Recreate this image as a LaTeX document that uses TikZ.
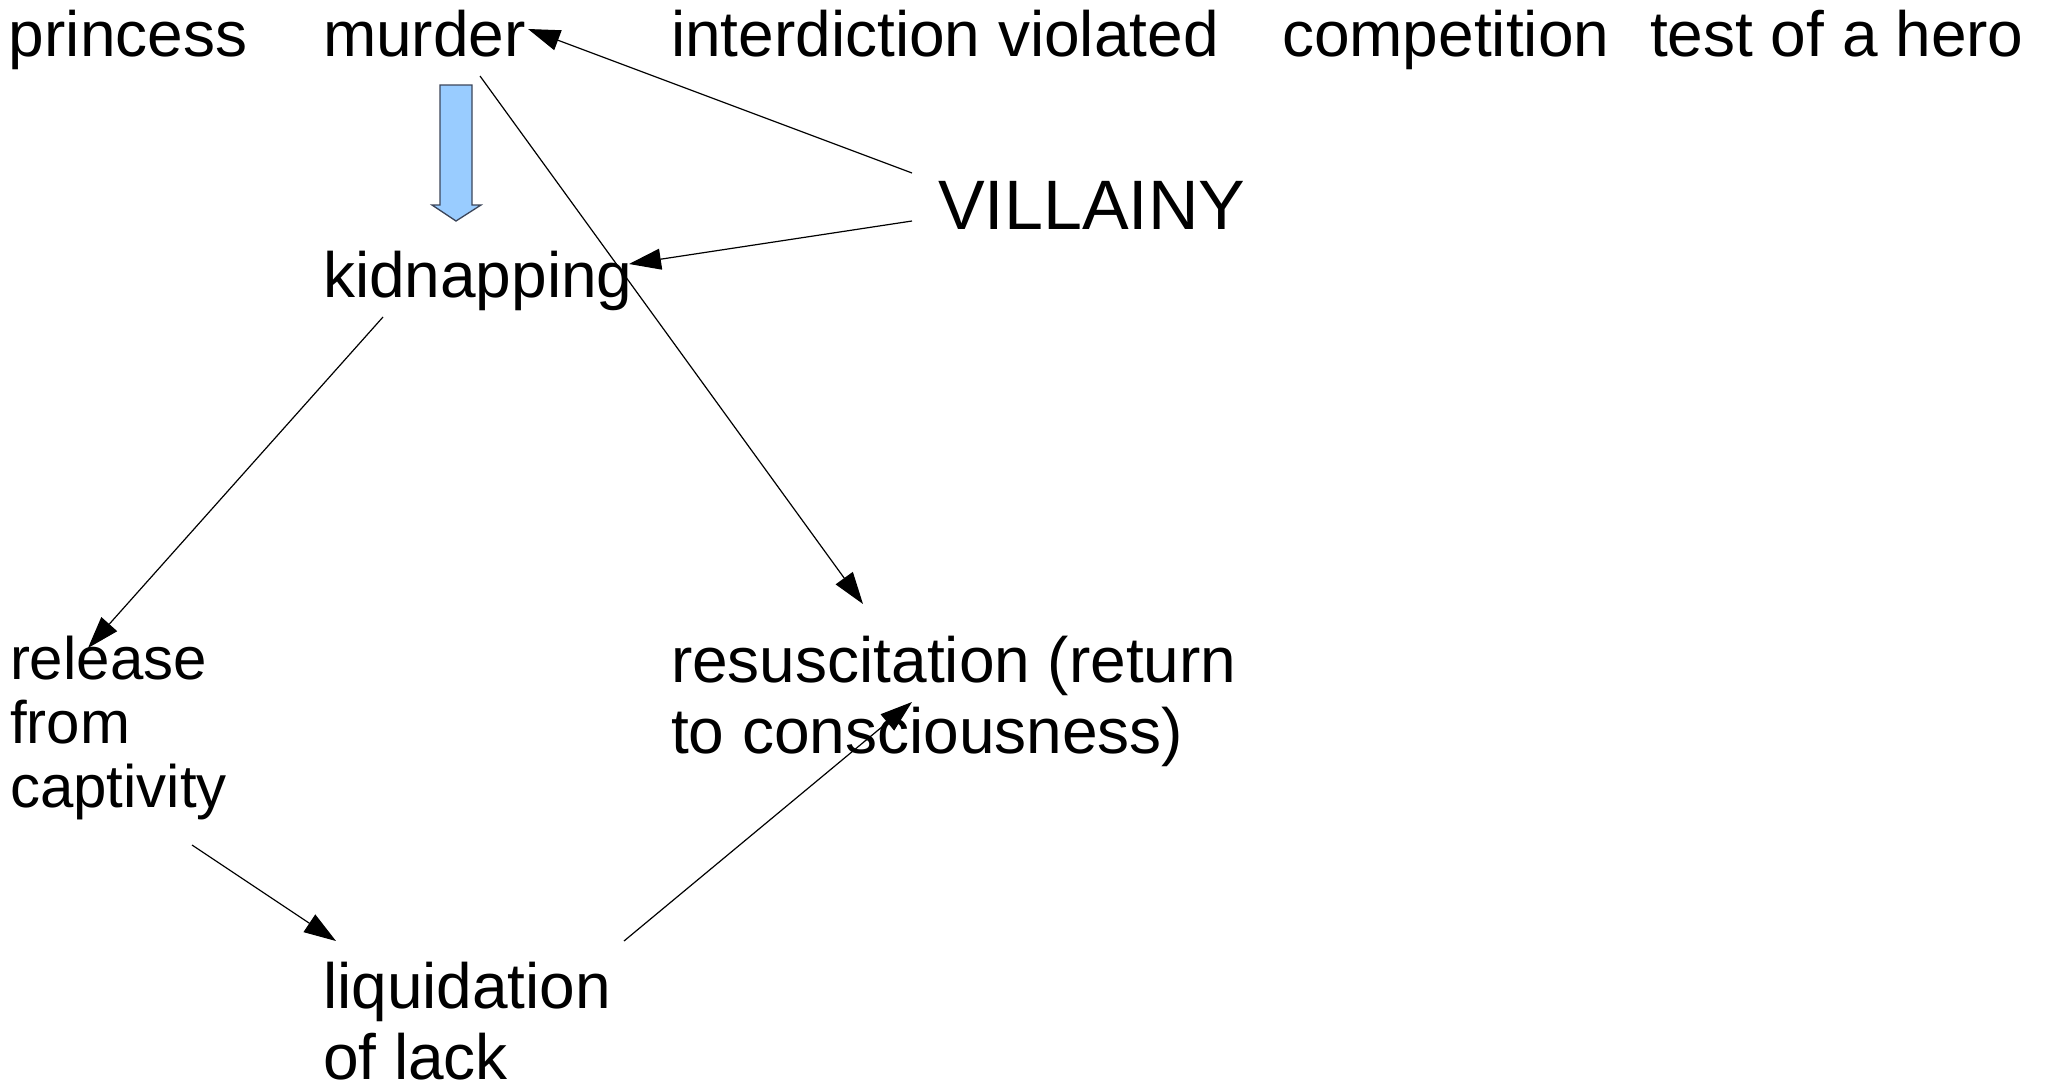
\documentclass[tikz,border=0pt]{standalone}
\usepackage{fontspec}
\setmainfont{Liberation Sans}
\usetikzlibrary{arrows.meta}
\begin{document}
\begin{tikzpicture}[x=1pt,y=-1pt,
  lbl/.style={anchor=base west,inner sep=0pt,outer sep=0pt,font=\fontsize{64}{71}\selectfont,align=left},
  biglbl/.style={lbl,font=\fontsize{70}{78}\selectfont},
  smalllbl/.style={lbl,font=\fontsize{60}{64}\selectfont},
  conn/.style={line width=1.2pt,-{Triangle[length=32pt,width=21pt]}},
  blockarrow/.style={fill={rgb,255:red,153;green,204;blue,255},draw={rgb,255:red,60;green,70;blue,90},line width=1.3pt,line join=miter}]
\useasboundingbox[fill=white] (0,0) rectangle (2048,1084);

% top row
\node[lbl] (princess) at (9,56) {princess};
\node[lbl] (murder) at (323,56) {murder};
\node[lbl] (interdiction) at (671,56) {interdiction violated};
\node[lbl] (competition) at (1282,56) {competition};
\node[lbl] (test) at (1650,56) {test of a hero};

\node[biglbl] (villainy) at (938,229) {VILLAINY};
\node[lbl] (kidnapping) at (323,297) {kidnapping};
% multi-line nodes: base anchor is the baseline of the last line
\node[smalllbl] (release) at (10,807) {release\\from\\captivity};
\node[lbl] (resus) at (671,753) {resuscitation (return\\to consciousness)};
\node[lbl] (liquidation) at (323,1079) {liquidation\\of lack};

% connector end points
\coordinate (vm) at (912,173);
\coordinate (mv) at (528,29);
\coordinate (vk) at (912,221);
\coordinate (kv) at (629,264);
\coordinate (mr) at (480,76);
\coordinate (rm) at (863,604);
\coordinate (kr) at (383,317);
\coordinate (rk) at (88,648);
\coordinate (rl) at (192,845);
\coordinate (lr) at (336,941);
\coordinate (lres) at (624,941);
\coordinate (resl) at (912,702);

\draw[conn] (vm) -- (mv);
\draw[conn] (vk) -- (kv);
\draw[conn] (mr) -- (rm);
\draw[conn] (kr) -- (rk);
\draw[conn] (rl) -- (lr);
\draw[conn] (lres) -- (resl);

% block arrow murder -> kidnapping
\draw[blockarrow] (440,85) -- (472,85) -- (472,205) -- (481,205) -- (456,221) -- (432,205) -- (440,205) -- cycle;
\end{tikzpicture}
\end{document}
